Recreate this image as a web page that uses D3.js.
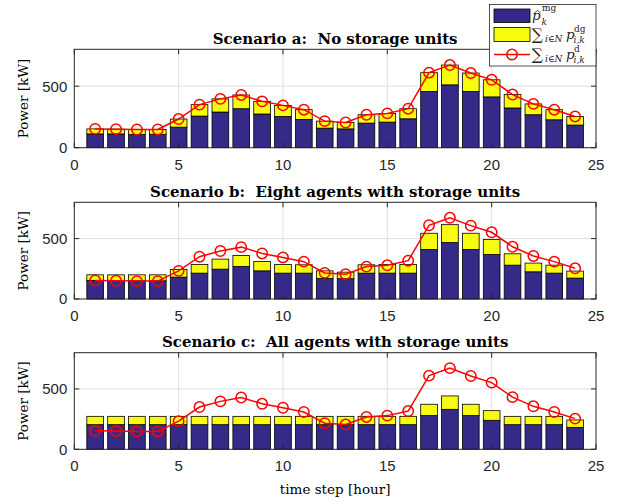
<!DOCTYPE html>
<html>
<head>
<meta charset="utf-8">
<script src="https://cdn.jsdelivr.net/npm/d3@7"></script>
<style>
  body { margin: 0; background: #fff; }
  svg { display: block; }
</style>
</head>
<body>
<div id="chart"></div>
<script>
// hours on the x axis
const hours = [1,2,3,4,5,6,7,8,9,10,11,12,13,14,15,16,17,18,19,20,21,22,23,24];

// total demand (red line), same in every scenario
const demand = [153,151,148,148,233,350,397,429,377,344,309,216,205,268,279,317,610,672,607,552,432,356,309,254];

// scenario a: no storage
const mgA = [112,112,107,109,167,257,290,317,274,254,230,159,153,200,208,235,457,511,457,413,323,268,227,184];
const dgA = [41,39,41,39,66,93,107,112,103,90,79,57,52,68,71,82,153,161,150,139,109,88,82,70];

// scenario b: eight agents with storage
const mgB = [154,154,151,151,181,214,247,269,233,214,214,170,168,214,214,214,409,467,409,368,280,225,214,173];
const dgB = [46,46,49,49,63,72,83,91,77,72,69,63,54,69,72,72,135,148,135,124,94,72,66,58];

// scenario c: all agents with storage
const mgC = [204,204,204,204,204,204,204,204,204,204,204,204,204,204,204,204,279,331,279,240,204,204,204,182];
const dgC = [69,69,69,69,69,69,69,69,69,69,69,69,69,69,69,69,94,111,94,80,69,69,69,61];

const titles = [
  "Scenario a:  No storage units",
  "Scenario b:  Eight agents with storage units",
  "Scenario c:  All agents with storage units"
];
const xTicks = [0, 5, 10, 15, 20, 25];
const yTicks = [0, 500];

const blue = "#352a87", yellow = "#f9fb0e", red = "#ff0000", axisCol = "#262626";

const W = 624, H = 504;
const svg = d3.select("#chart").append("svg")
    .attr("width", W)
    .attr("height", H);

const x = d3.scaleLinear().domain([0, 25]).range([74.3, 596]);

// top/bottom pixel of each panel
const panels = [
  { top: 49.3, bottom: 147.7, mg: mgA, dg: dgA },
  { top: 202.3, bottom: 299, mg: mgB, dg: dgB },
  { top: 352.7, bottom: 449.3, mg: mgC, dg: dgC }
];

panels.forEach((p, pi) => {
    const y = d3.scaleLinear().domain([0, 800]).range([p.bottom, p.top]);
    const g = svg.append("g");

    // grid
    g.selectAll("line.gx")
        .data(xTicks.slice(1, -1))
        .enter().append("line")
        .attr("x1", d => x(d)).attr("x2", d => x(d))
        .attr("y1", p.top).attr("y2", p.bottom)
        .attr("stroke", "#dfdfdf").attr("stroke-width", 1);
    g.selectAll("line.gy")
        .data(yTicks.slice(1))
        .enter().append("line")
        .attr("x1", x(0)).attr("x2", x(25))
        .attr("y1", d => y(d)).attr("y2", d => y(d))
        .attr("stroke", "#dfdfdf").attr("stroke-width", 1);

    // stacked bars
    const bw = x(0.8) - x(0);
    const rows = hours.map((h, i) => ({ h, mg: p.mg[i], dg: p.dg[i] }));
    g.selectAll("rect.mg")
        .data(rows)
        .enter().append("rect")
        .attr("x", d => x(d.h) - bw / 2)
        .attr("width", bw)
        .attr("y", d => y(d.mg))
        .attr("height", d => y(0) - y(d.mg))
        .attr("fill", blue)
        .attr("stroke", "#000").attr("stroke-width", 0.8);
    g.selectAll("rect.dg")
        .data(rows)
        .enter().append("rect")
        .attr("x", d => x(d.h) - bw / 2)
        .attr("width", bw)
        .attr("y", d => y(d.mg + d.dg))
        .attr("height", d => y(d.mg) - y(d.mg + d.dg))
        .attr("fill", yellow)
        .attr("stroke", "#000").attr("stroke-width", 0.8);

    // demand line
    const line = d3.line().x((d, i) => x(hours[i])).y(d => y(d));
    g.append("path")
        .datum(demand)
        .attr("d", line)
        .attr("fill", "none")
        .attr("stroke", red).attr("stroke-width", 1.5);
    g.selectAll("circle")
        .data(demand)
        .enter().append("circle")
        .attr("cx", (d, i) => x(hours[i]))
        .attr("cy", d => y(d))
        .attr("r", 5.2)
        .attr("fill", "none")
        .attr("stroke", red).attr("stroke-width", 1.5);

    // box
    g.append("rect")
        .attr("x", x(0)).attr("y", p.top)
        .attr("width", x(25) - x(0)).attr("height", p.bottom - p.top)
        .attr("fill", "none").attr("stroke", axisCol).attr("stroke-width", 1);

    // ticks (inward, all four sides)
    const tl = 5;
    xTicks.forEach(t => {
        g.append("line").attr("x1", x(t)).attr("x2", x(t))
            .attr("y1", p.bottom).attr("y2", p.bottom - tl)
            .attr("stroke", axisCol);
        g.append("line").attr("x1", x(t)).attr("x2", x(t))
            .attr("y1", p.top).attr("y2", p.top + tl)
            .attr("stroke", axisCol);
        g.append("text")
            .attr("x", x(t)).attr("y", p.bottom + 22)
            .attr("text-anchor", "middle")
            .style("font", "15px 'Liberation Sans', Arial, sans-serif")
            .attr("fill", axisCol)
            .text(t);
    });
    yTicks.forEach(t => {
        g.append("line").attr("x1", x(0)).attr("x2", x(0) + tl)
            .attr("y1", y(t)).attr("y2", y(t))
            .attr("stroke", axisCol);
        g.append("line").attr("x1", x(25)).attr("x2", x(25) - tl)
            .attr("y1", y(t)).attr("y2", y(t))
            .attr("stroke", axisCol);
        g.append("text")
            .attr("x", x(0) - 7).attr("y", y(t))
            .attr("dy", "0.36em")
            .attr("text-anchor", "end")
            .style("font", "15px 'Liberation Sans', Arial, sans-serif")
            .attr("fill", axisCol)
            .text(t);
    });

    // title
    g.append("text")
        .attr("x", (x(0) + x(25)) / 2).attr("y", p.top - 5.5)
        .attr("text-anchor", "middle")
        .style("font", "bold 15px 'DejaVu Serif', serif")
        .style("white-space", "pre")
        .text(titles[pi]);

    // y label
    const cy = (p.top + p.bottom) / 2;
    g.append("text")
        .attr("transform", `translate(28,${cy}) rotate(-90)`)
        .attr("text-anchor", "middle")
        .style("font", "13.5px 'DejaVu Serif', serif")
        .text("Power [kW]");
});

// x label
svg.append("text")
    .attr("x", (x(0) + x(25)) / 2).attr("y", 494)
    .attr("text-anchor", "middle")
    .style("font", "13.5px 'DejaVu Serif', serif")
    .text("time step [hour]");

// legend
const lg = svg.append("g");
lg.append("rect")
    .attr("x", 489.5).attr("y", 4.5).attr("width", 106.5).attr("height", 61.5)
    .attr("fill", "#fff").attr("stroke", axisCol).attr("stroke-width", 0.8);
lg.append("rect").attr("x", 494).attr("y", 9).attr("width", 36).attr("height", 13.5)
    .attr("fill", blue).attr("stroke", "#000").attr("stroke-width", 0.8);
lg.append("rect").attr("x", 494).attr("y", 27.5).attr("width", 36).attr("height", 14)
    .attr("fill", yellow).attr("stroke", "#000").attr("stroke-width", 0.8);
lg.append("line").attr("x1", 494).attr("x2", 530).attr("y1", 54.5).attr("y2", 54.5)
    .attr("stroke", red).attr("stroke-width", 1.5);
lg.append("circle").attr("cx", 512).attr("cy", 54.5).attr("r", 5.2)
    .attr("fill", "none").attr("stroke", red).attr("stroke-width", 1.5);

const mathFont = "'DejaVu Serif', serif";
function mt(xp, yp, s, size, italic) {
    lg.append("text").attr("x", xp).attr("y", yp)
        .style("font-family", mathFont)
        .style("font-size", size + "px")
        .style("font-style", italic ? "italic" : "normal")
        .attr("fill", "#222")
        .text(s);
}
// row 1: p-hat_k^mg (hat drawn as a small stroke)
mt(532, 20, "p", 13.5, true);
lg.append("path").attr("d", "M534.5,13 L537.5,10.5 L540.5,13")
    .attr("fill", "none").attr("stroke", "#222").attr("stroke-width", 0.8);
mt(542, 11, "mg", 9, false);
mt(541.5, 24.5, "k", 9, true);
// rows 2 and 3: sum_{i in N} p^{dg|d}_{i,k}
[[39, "dg"], [59, "d"]].forEach(([yb, sup]) => {
    mt(531.5, yb + 1, "\u2211", 16, false);
    mt(545, yb + 3, "i\u2208N", 9, true);
    mt(566, yb, "p", 13.5, true);
    mt(574, yb - 7.5, sup, 9, false);
    mt(573.5, yb + 4, "i,k", 9, true);
});
</script>
</body>
</html>
